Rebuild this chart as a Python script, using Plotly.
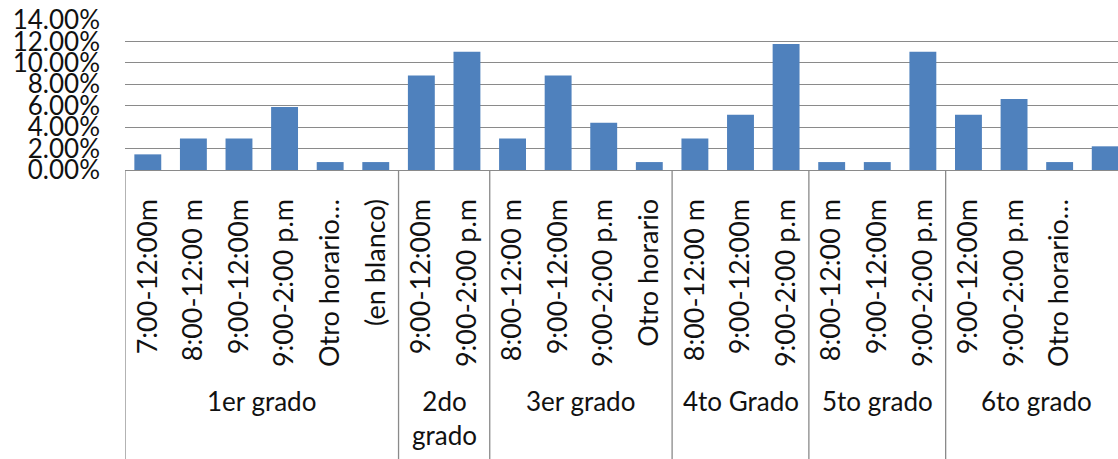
import plotly.graph_objects as go

# Horarios por grado (porcentaje del total)
grados = ["1er grado", "2do<br>grado", "3er grado", "4to Grado", "5to grado", "6to grado"]
horarios = [
    ["7:00-12:00m", "8:00-12:00 m", "9:00-12:00m", "9:00-2:00 p.m", "Otro horario…", "(en blanco)"],
    ["9:00-12:00m", "9:00-2:00 p.m"],
    ["8:00-12:00 m", "9:00-12:00m", "9:00-2:00 p.m", "Otro horario"],
    ["8:00-12:00 m", "9:00-12:00m", "9:00-2:00 p.m"],
    ["8:00-12:00 m", "9:00-12:00m", "9:00-2:00 p.m"],
    ["9:00-12:00m", "9:00-2:00 p.m", "Otro horario…", "(en blanco)"],
]
porcentajes = [
    [1.46, 2.94, 2.94, 5.88, 0.74, 0.74],
    [8.82, 11.03],
    [2.94, 8.82, 4.41, 0.74],
    [2.94, 5.15, 11.76],
    [0.74, 0.74, 11.03],
    [5.15, 6.62, 0.74, 2.21],
]
y_ticks = [0, 0.02, 0.04, 0.06, 0.08, 0.10, 0.12, 0.14]

FONT = "Lato"
GRID = "#8a8a8a"
BAR = "#4F81BD"

labels = [h for grupo in horarios for h in grupo]
values = [v / 100 for grupo in porcentajes for v in grupo]
xs = list(range(len(labels)))

fig = go.Figure(go.Bar(
    x=xs, y=values,
    marker=dict(color=BAR, line=dict(width=0)),
    width=0.59,
    hoverinfo="skip",
))

H_PLOT = 150
MARGIN_B = 289
y_bottom = -MARGIN_B / H_PLOT

shapes = []
annotations = []
start = 0
bounds = [-0.5]
for grado, grupo in zip(grados, horarios):
    end = start + len(grupo)
    bounds.append(end - 0.5)
    annotations.append(dict(
        x=(start + end - 1) / 2, xref="x",
        y=-(383 - 170) / H_PLOT, yref="paper",
        text=grado, showarrow=False, xanchor="center", yanchor="top",
        font=dict(family=FONT, size=26, color="#111"),
    ))
    start = end

for b in bounds[:-1]:
    shapes.append(dict(
        type="line", xref="x", yref="paper",
        x0=b, x1=b, y0=0, y1=y_bottom,
        line=dict(color=GRID, width=1.3),
    ))

fig.update_layout(
    width=1118, height=459,
    margin=dict(l=125, r=0, t=20, b=MARGIN_B),
    paper_bgcolor="white", plot_bgcolor="white",
    showlegend=False,
    shapes=shapes, annotations=annotations,
    xaxis=dict(
        range=[-0.5, 21.28],
        tickmode="array", tickvals=xs, ticktext=labels,
        tickangle=-90, ticks="", ticklabelstandoff=17,
        tickfont=dict(family=FONT, size=27, color="#111"),
        showgrid=False, zeroline=False,
        showline=True, linecolor=GRID, linewidth=1.3,
        fixedrange=True,
    ),
    yaxis=dict(
        range=[0, 0.14],
        tickmode="array", tickvals=y_ticks,
        tickformat=".2%", ticks="", ticklabelstandoff=24,
        tickfont=dict(family=FONT, size=26, color="#111"),
        showgrid=True, gridcolor=GRID, gridwidth=1.3,
        zeroline=False, showline=False,
        fixedrange=True,
    ),
)

fig.write_html("out.html")
